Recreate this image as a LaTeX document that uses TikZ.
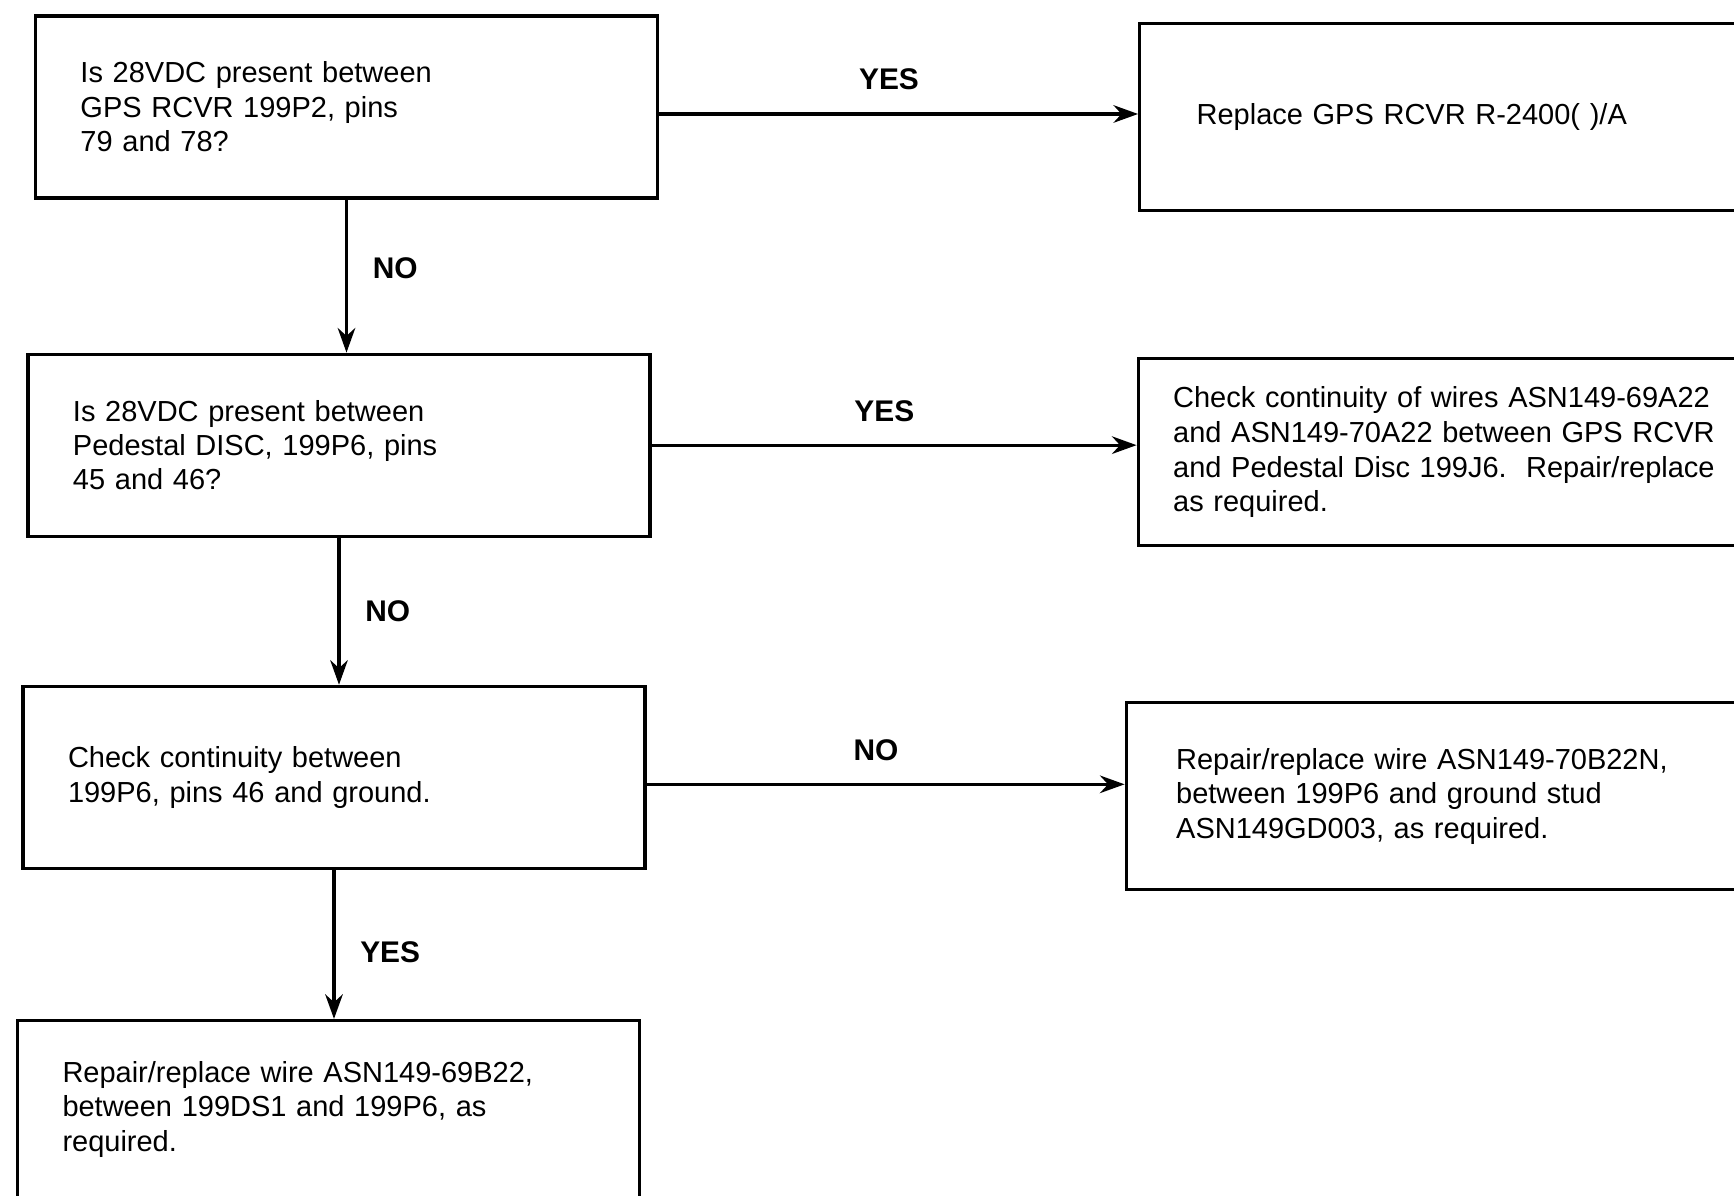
\documentclass[tikz,border=0pt]{standalone}
\usepackage{fontspec}
\setmainfont{Liberation Sans}
\usetikzlibrary{arrows.meta, positioning}

\begin{document}
\begin{tikzpicture}[
    node distance=1.5cm and 4.8cm,
    testbox/.style={rectangle, draw, line width=0.9pt, minimum width=6.22cm, minimum height=1.82cm, text width=5.32cm, inner xsep=0.45cm, align=left, font=\fontsize{8.25}{9.8}\selectfont},
    fixbox/.style={rectangle, draw, line width=0.9pt, minimum height=1.87cm, text width=6.2cm, inner xsep=0.4cm, align=left, font=\fontsize{8.25}{9.9}\selectfont},
    answer/.style={font=\fontsize{8.5}{10}\selectfont\bfseries},
    arrow/.style={-{Stealth[length=7pt, width=5pt]}, line width=0.9pt}
]
\useasboundingbox (0,0) rectangle (17.34,-11.96);
\clip (0,0) rectangle (17.34,-11.96);

% Checks
\node[testbox] (q1) at (3.465,-1.07) {Is 28VDC present between\\GPS RCVR 199P2, pins\\79 and 78?};
\node[testbox, below=1.53cm of q1, xshift=-0.075cm] (q2) {Is 28VDC present between\\Pedestal DISC, 199P6, pins\\45 and 46?};
\node[testbox, below=1.47cm of q2, xshift=-0.05cm] (q3) {Check continuity between\\199P6, pins 46 and ground.};
\node[testbox, below=1.49cm of q3, xshift=-0.055cm, minimum height=1.78cm] (q4) {Repair/replace wire ASN149-69B22,\\between 199DS1 and 199P6, as\\required.};

% Repairs
\node[fixbox, right=4.79cm of q1, yshift=-0.1cm, inner xsep=0.57cm] (a1) {Replace GPS RCVR R-2400( )/A};
\node[fixbox, right=4.85cm of q2, yshift=-0.07cm, inner xsep=0.35cm] (a2) {Check continuity of wires ASN149-69A22\\and ASN149-70A22 between GPS RCVR\\and Pedestal Disc 199J6.\ \ Repair/replace\\as required.};
\node[fixbox, right=4.78cm of q3, yshift=-0.19cm, inner xsep=0.5cm] (a3) {Repair/replace wire ASN149-70B22N,\\between 199P6 and ground stud\\ASN149GD003, as required.};

% Arrows
\draw[arrow] ([yshift=-0.07cm]q1.east) -- node[answer, above=3pt, pos=0.48] {YES} ([yshift=-0.07cm]q1.east -| a1.west);
\draw[arrow] (q2.east) -- node[answer, above=3pt, pos=0.48] {YES} (q2.east -| a2.west);
\draw[arrow] ([yshift=-0.07cm]q3.east) -- node[answer, above=3pt, pos=0.48] {NO} ([yshift=-0.07cm]q3.east -| a3.west);
\draw[arrow] (q1.south) -- node[answer, right=0.13cm, pos=0.45] {NO} (q1.south |- q2.north);
\draw[arrow] (q2.south) -- node[answer, right=0.13cm] {NO} (q2.south |- q3.north);
\draw[arrow] (q3.south) -- node[answer, right=0.13cm, pos=0.55] {YES} (q3.south |- q4.north);

\end{tikzpicture}
\end{document}
